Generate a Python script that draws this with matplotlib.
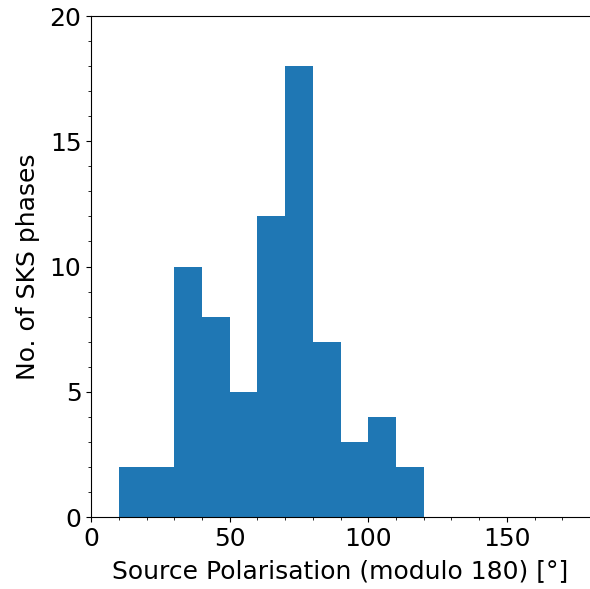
import numpy as np
import matplotlib
matplotlib.use('Agg')
import matplotlib.pyplot as plt
from matplotlib.ticker import MultipleLocator

# histogram bin edges and counts
bin_edges = [10, 20, 30, 40, 50, 60, 70, 80, 90, 100, 110, 120]
counts = [2, 2, 10, 8, 5, 12, 18, 7, 3, 4, 2]

fig = plt.figure(figsize=(5.9, 5.89), dpi=100)
ax = fig.add_axes([0.1545, 0.1222, 0.8455, 0.8506])

ax.hist(bin_edges[:-1], bins=bin_edges, weights=counts, color='#1f77b4')

ax.set_xlim(0, 180)
ax.set_ylim(0, 20)
ax.xaxis.set_major_locator(MultipleLocator(50))
ax.xaxis.set_minor_locator(MultipleLocator(10))
ax.yaxis.set_major_locator(MultipleLocator(5))
ax.yaxis.set_minor_locator(MultipleLocator(1))
ax.spines['right'].set_visible(False)
ax.tick_params(labelsize=18)

ax.set_xlabel('Source Polarisation (modulo 180) [°]', fontsize=18, labelpad=6)
ax.set_ylabel('No. of SKS phases', fontsize=18, labelpad=7)

fig.savefig('out.png', dpi=100)
